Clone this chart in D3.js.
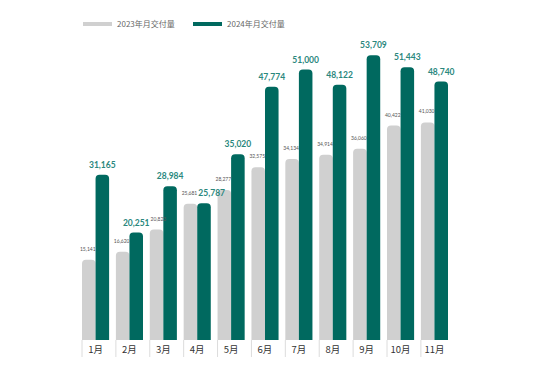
<!DOCTYPE html>
<html>
<head>
<meta charset="utf-8">
<script src="https://cdn.jsdelivr.net/npm/d3@7"></script>
<style>
  body { margin: 0; background: #fff; }
  text { font-family: "Noto Sans CJK SC", "Noto Sans", sans-serif; }
  text.num { font-family: Lato, "Open Sans", sans-serif; }
</style>
</head>
<body>
<div id="chart"></div>
<script>
const width = 550, height = 378;

const months = ["1月", "2月", "3月", "4月", "5月", "6月", "7月", "8月", "9月", "10月", "11月"];
const deliveries2023 = [15141, 16620, 20823, 25681, 28277, 32575, 34134, 34914, 36060, 40422, 41030];
const deliveries2024 = [31165, 20251, 28984, 25787, 35020, 47774, 51000, 48122, 53709, 51443, 48740];
const seriesNames = ["2023年月交付量", "2024年月交付量"];
const colors = ["#d0d0d0", "#00695f"];

const svg = d3.select("#chart").append("svg")
    .attr("width", width)
    .attr("height", height);

const x = d3.scaleBand()
    .domain(months)
    .range([82, 448])
    .paddingInner(0.2)
    .paddingOuter(0);

const xInner = d3.scaleBand()
    .domain([0, 1])
    .range([0, x.bandwidth()]);

const y = d3.scaleLinear()
    .domain([0, 56000])
    .range([340, 43]);

// bar with rounded top corners only
const barPath = (x0, w, yTop, yBase, r) => {
    r = Math.min(r, w / 2, yBase - yTop);
    return `M${x0},${yBase}V${yTop + r}Q${x0},${yTop} ${x0 + r},${yTop}` +
        `H${x0 + w - r}Q${x0 + w},${yTop} ${x0 + w},${yTop + r}V${yBase}Z`;
};

const rows = months.map((m, i) => ({ month: m, v: [deliveries2023[i], deliveries2024[i]] }));
const fmt = d3.format(",");

const barLayer = svg.append("g").attr("class", "bars");
const labelLayer = svg.append("g").attr("class", "labels");

const groups = barLayer.selectAll("g")
    .data(rows)
    .join("g")
    .attr("transform", d => `translate(${x(d.month)},0)`);

[0, 1].forEach(s => {
    groups.append("path")
        .attr("d", d => barPath(xInner(s), xInner.bandwidth(), y(d.v[s]), y(0), 4))
        .attr("fill", colors[s]);
});

const lgroups = labelLayer.selectAll("g")
    .data(rows)
    .join("g")
    .attr("transform", d => `translate(${x(d.month)},0)`);

// 2023 value labels (small, grey)
const grayLabels = lgroups.append("text")
    .attr("class", "num")
    .attr("x", xInner(0) + xInner.bandwidth() / 2 - 1)
    .attr("y", d => y(d.v[0]) - 9)
    .attr("text-anchor", "middle")
    .attr("font-size", 5)
    .attr("fill", "#555")
    .text(d => fmt(d.v[0]));

// 2024 value labels (bold, teal)
const tealLabels = lgroups.append("text")
    .attr("class", "num")
    .attr("x", xInner(1) + xInner.bandwidth() / 2)
    .attr("y", d => y(d.v[1]) - 7)
    .attr("text-anchor", "middle")
    .attr("font-size", 8.5)
    .attr("font-weight", "bold")
    .attr("fill", "#2a877d")
    .text(d => fmt(d.v[1]));

// nudge labels that collide
const box = (node) => {
    const b = node.getBBox();
    const tx = x(d3.select(node).datum().month);
    const dx = +d3.select(node).attr("dx") || 0;
    return { x0: b.x + tx + dx, x1: b.x + b.width + tx + dx, y0: b.y, y1: b.y + b.height * 0.8 };
};
const gNodes = grayLabels.nodes(), tNodes = tealLabels.nodes();
tNodes.forEach((tn, i) => {
    const t = box(tn), g = box(gNodes[i]);
    if (t.x0 < g.x1 && t.y0 < g.y1 && g.y0 < t.y1) d3.select(tn).attr("dx", g.x1 - t.x0 + 1);
    if (i + 1 < gNodes.length) {
        const t2 = box(tn), gn = box(gNodes[i + 1]);
        if (t2.x1 > gn.x0 && t2.y0 < gn.y1 && gn.y0 < t2.y1) d3.select(gNodes[i + 1]).attr("dx", t2.x1 - gn.x0 + 1);
    }
});

// month axis: separators + labels
lgroups.append("line")
    .attr("x1", 0).attr("x2", 0)
    .attr("y1", 340).attr("y2", 357)
    .attr("stroke", "#dcdcdc")
    .attr("stroke-width", 1);

lgroups.append("text")
    .attr("x", x.bandwidth() / 2)
    .attr("y", 353)
    .attr("text-anchor", "middle")
    .attr("font-size", 9.5)
    .attr("fill", "#333")
    .text(d => d.month);

// legend
const legend = svg.append("g").selectAll("g")
    .data(seriesNames)
    .join("g")
    .attr("transform", (d, i) => `translate(${83 + i * 110},24)`);

legend.append("rect")
    .attr("x", 0).attr("y", -2)
    .attr("width", 29).attr("height", 4)
    .attr("fill", (d, i) => colors[i]);

legend.append("text")
    .attr("x", 34)
    .attr("y", 3)
    .attr("font-size", 8)
    .attr("fill", "#666")
    .text(d => d);
</script>
</body>
</html>
